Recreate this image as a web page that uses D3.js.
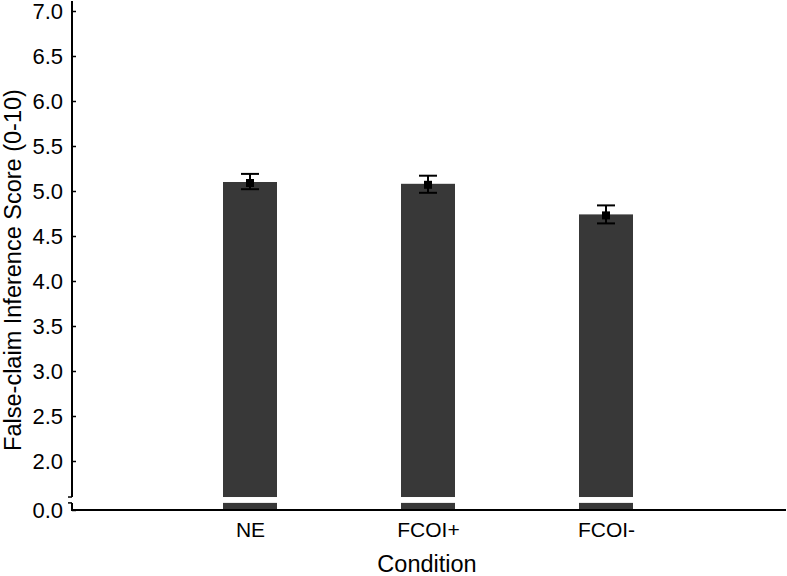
<!DOCTYPE html>
<html>
<head>
<meta charset="utf-8">
<script src="https://cdn.jsdelivr.net/npm/d3@7"></script>
<style>
  body { margin: 0; background: #fff; }
  svg { display: block; font-family: "Liberation Sans", Arial, Helvetica, sans-serif; }
</style>
</head>
<body>
<div id="chart"></div>
<script>
const categories = ["NE", "FCOI+", "FCOI-"];
const means = [5.1, 5.08, 4.74];
const ciLow = [5.02, 4.98, 4.64];
const ciHigh = [5.19, 5.17, 4.84];
const yTicks = [0, 2, 2.5, 3, 3.5, 4, 4.5, 5, 5.5, 6, 6.5, 7];
const breakLow = 0.29;
const breakHigh = 0.53;

const width = 787;
const height = 576;
const left = 72;
const right = 784;
const axisY = 510;

const svg = d3
  .select("#chart")
  .append("svg")
  .attr("width", width)
  .attr("height", height);

const x = d3.scalePoint().domain(categories).range([left, right]).padding(1);

// broken axis: 0 - 2 squeezed, 2 - 7 linear
const y = d3.scaleLinear().domain([0, 2, 7]).range([axisY, 461, 11]);

const data = categories.map((c, i) => ({
  cat: c,
  mean: means[i],
  lo: ciLow[i],
  hi: ciHigh[i],
}));

const barW = 54;

svg
  .append("g")
  .selectAll("rect")
  .data(data)
  .join("rect")
  .attr("x", (d) => x(d.cat) - barW / 2)
  .attr("y", (d) => y(d.mean))
  .attr("width", barW)
  .attr("height", (d) => y(0) - y(d.mean))
  .attr("fill", "#383838");

// white gap across bars at the axis break
svg
  .append("g")
  .selectAll("rect")
  .data(data)
  .join("rect")
  .attr("x", (d) => x(d.cat) - barW / 2 - 1)
  .attr("y", y(breakHigh))
  .attr("width", barW + 2)
  .attr("height", y(breakLow) - y(breakHigh))
  .attr("fill", "#fff");

// error bars
const err = svg.append("g").attr("stroke", "#000").attr("stroke-width", 2);
err
  .selectAll("line.v")
  .data(data)
  .join("line")
  .attr("class", "v")
  .attr("x1", (d) => x(d.cat))
  .attr("x2", (d) => x(d.cat))
  .attr("y1", (d) => y(d.lo))
  .attr("y2", (d) => y(d.hi));
err
  .selectAll("line.capHi")
  .data(data)
  .join("line")
  .attr("class", "capHi")
  .attr("x1", (d) => x(d.cat) - 9)
  .attr("x2", (d) => x(d.cat) + 9)
  .attr("y1", (d) => y(d.hi))
  .attr("y2", (d) => y(d.hi));
err
  .selectAll("line.capLo")
  .data(data)
  .join("line")
  .attr("class", "capLo")
  .attr("x1", (d) => x(d.cat) - 9)
  .attr("x2", (d) => x(d.cat) + 9)
  .attr("y1", (d) => y(d.lo))
  .attr("y2", (d) => y(d.lo));

svg
  .append("g")
  .selectAll("rect")
  .data(data)
  .join("rect")
  .attr("x", (d) => x(d.cat) - 4)
  .attr("y", (d) => y(d.mean) - 3)
  .attr("width", 8)
  .attr("height", 8)
  .attr("fill", "#000");

// y axis
const yAxis = svg
  .append("g")
  .attr("transform", `translate(${left},0)`)
  .call(
    d3
      .axisLeft(y)
      .tickValues(yTicks)
      .tickSize(-4)
      .tickPadding(9)
      .tickFormat(d3.format(".1f"))
  );
yAxis.select(".domain").remove();
yAxis.selectAll(".tick line").attr("stroke", "#000").attr("stroke-width", 1.5);
yAxis
  .selectAll(".tick text")
  .attr("font-size", 22)
  .attr("fill", "#000")
  .attr("font-family", null);

const axisLine = svg
  .append("g")
  .attr("stroke", "#000")
  .attr("stroke-width", 2)
  .attr("fill", "none");
axisLine
  .append("line")
  .attr("x1", left)
  .attr("x2", left)
  .attr("y1", y(7) - 10)
  .attr("y2", y(breakHigh));
axisLine
  .append("line")
  .attr("x1", left)
  .attr("x2", left)
  .attr("y1", y(breakLow))
  .attr("y2", axisY);
axisLine
  .append("line")
  .attr("x1", left - 4)
  .attr("x2", left)
  .attr("y1", y(breakHigh))
  .attr("y2", y(breakHigh))
  .attr("stroke-width", 1.5);
axisLine
  .append("line")
  .attr("x1", left - 4)
  .attr("x2", left)
  .attr("y1", y(breakLow))
  .attr("y2", y(breakLow))
  .attr("stroke-width", 1.5);

// x axis
const xAxis = svg
  .append("g")
  .attr("transform", `translate(0,${axisY})`)
  .call(d3.axisBottom(x).tickSize(0).tickPadding(12));
xAxis.select(".domain").remove();
xAxis
  .selectAll(".tick text")
  .attr("font-size", 21)
  .attr("fill", "#000")
  .attr("font-family", null);
axisLine
  .append("line")
  .attr("x1", left - 1)
  .attr("x2", right + 2)
  .attr("y1", axisY)
  .attr("y2", axisY);

svg
  .append("text")
  .attr("x", (left + right) / 2 - 1)
  .attr("y", 572)
  .attr("text-anchor", "middle")
  .attr("font-size", 23.5)
  .text("Condition");

svg
  .append("text")
  .attr("transform", `translate(21,270) rotate(-90)`)
  .attr("text-anchor", "middle")
  .attr("font-size", 23.5)
  .text("False-claim Inference Score (0-10)");
</script>
</body>
</html>
